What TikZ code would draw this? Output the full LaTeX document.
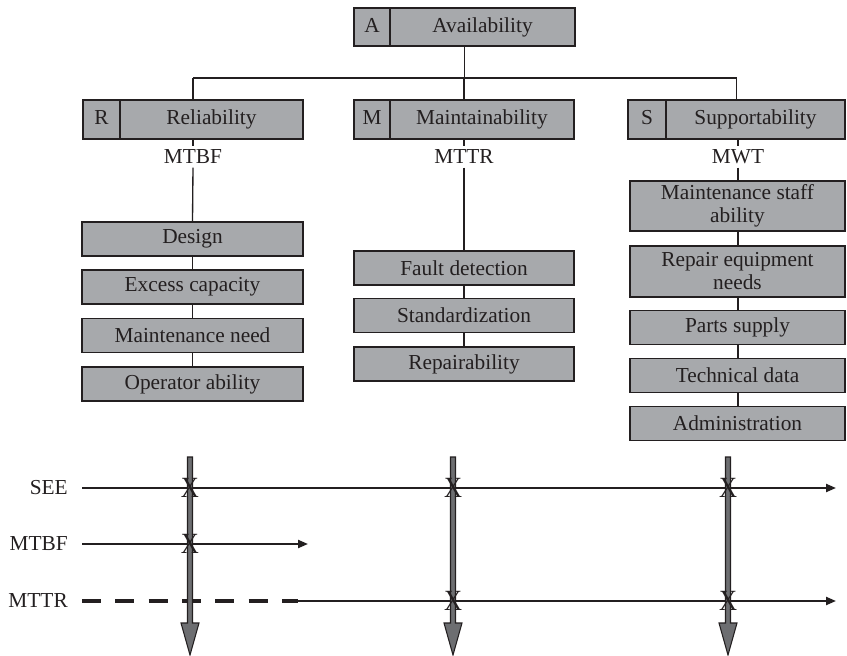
\documentclass[tikz,border=0pt]{standalone}
\usepackage{fontspec}
\setmainfont{Liberation Serif}
\usetikzlibrary{arrows.meta}
\definecolor{boxgray}{RGB}{167,169,172}
\definecolor{bargray}{RGB}{109,110,113}
\definecolor{ink}{RGB}{35,31,32}

\begin{document}
\begin{tikzpicture}[x=0.75pt,y=-0.75pt,
  font=\fontsize{16}{17.25}\selectfont,
  every node/.style={text=ink},
  box/.style={draw=ink, line width=1pt, fill=boxgray, inner sep=0pt,
    align=center, minimum height=25.5pt},
  colL/.style={box, minimum width=165.75pt},
  colM/.style={box, minimum width=165pt},
  colR/.style={box, minimum width=161.25pt},
  headbox/.style 2 args={box, minimum width=#1, minimum height=29.25pt,
    path picture={\draw[ink, line width=2pt]
      ([xshift=#2]path picture bounding box.north west) --
      ([xshift=#2]path picture bounding box.south west);}},
  metric/.style={inner sep=2.5pt},
  conn/.style={draw=ink, line width=1pt},
  hline/.style={draw=ink, line width=1.6pt,
    -{Triangle[length=7.5pt,width=6pt]}},
  dashline/.style={draw=ink, line width=2.5pt,
    dash pattern=on 14.25pt off 10.75pt},
  bararrow/.style={draw=ink, line width=0.8pt, fill=bargray},
  xmark/.style={font=\fontsize{22}{22}\selectfont, inner sep=0pt},
  rowlabel/.style={anchor=east, inner sep=0pt}
]
\useasboundingbox (0,0) rectangle (847,656);

% ---- top of the tree ----
\node[headbox={165.75pt}{27pt}, minimum height=28.5pt] (A) at (464.5,27)
  {\makebox[27pt]{A}\makebox[138.75pt]{Availability}};
\node[headbox={165pt}{27.75pt}] (R) at (193,119.5)
  {\makebox[27.75pt]{R}\makebox[137.25pt]{Reliability}};
\node[headbox={165pt}{27pt}] (M) at (464,119.5)
  {\makebox[27pt]{M}\makebox[138pt]{Maintainability}};
\node[headbox={162.75pt}{28.5pt}] (S) at (736.5,119.5)
  {\makebox[28.5pt]{S}\makebox[134.25pt]{Supportability}};

\coordinate (bar) at (464,78);
\draw[conn] (A.south) -- (A.south |- bar);
\draw[conn] (R.north |- bar) -- (S.north |- bar);
\draw[conn] (R.north |- bar) -- (R.north);
\draw[conn] (M.north |- bar) -- (M.north);
\draw[conn] (S.north |- bar) -- (S.north);

% ---- metrics ----
\node[metric] (mtbf) at (193,157) {MTBF};
\node[metric] (mttr) at (464,157) {MTTR};
\node[metric] (mwt)  at (738,157) {MWT};

% ---- reliability column ----
\node[colL] (design) at (192.5,239)   {Design};
\node[colL] (excess) at (192.5,287)   {Excess capacity};
\node[colL] (mneed)  at (192.5,335.5) {Maintenance need};
\node[colL] (oper)   at (192.5,384)   {Operator ability};

% ---- maintainability column ----
\node[colM] (fault) at (464,268)   {Fault detection};
\node[colM] (stand) at (464,315.5) {Standardization};
\node[colM] (repab) at (464,364)   {Repairability};

% ---- supportability column ----
\node[colR, minimum height=37.5pt] (staff) at (737.5,206)
  {Maintenance staff\\ability};
\node[colR, minimum height=38.25pt] (equip) at (737.5,271.5)
  {Repair equipment\\needs};
\node[colR] (parts) at (737.5,327.5) {Parts supply};
\node[colR] (tech)  at (737.5,375.5) {Technical data};
\node[colR] (admin) at (737.5,423.5) {Administration};

% ---- column connectors ----
\draw[conn] (R.south) -- (mtbf.north);
\draw[conn] (mtbf.south) -- (design.north);
\draw[conn] (design.south) -- (excess.north);
\draw[conn] (excess.south) -- (mneed.north);
\draw[conn] (mneed.south) -- (oper.north);

\draw[conn] (M.south) -- (mttr.north);
\draw[conn] (mttr.south) -- (fault.north);
\draw[conn] (fault.south) -- (stand.north);
\draw[conn] (stand.south) -- (repab.north);

\draw[conn] (S.south -| mwt) -- (mwt.north);
\draw[conn] (mwt.south) -- (staff.north -| mwt);
\draw[conn] (staff.south -| mwt) -- (equip.north -| mwt);
\draw[conn] (equip.south -| mwt) -- (parts.north -| mwt);
\draw[conn] (parts.south -| mwt) -- (tech.north -| mwt);
\draw[conn] (tech.south -| mwt) -- (admin.north -| mwt);

% ---- time lines ----
\node[rowlabel] (lsee)  at (68,488) {SEE};
\node[rowlabel] (lmtbf) at (68,544) {MTBF};
\node[rowlabel] (lmttr) at (68,601) {MTTR};

\coordinate (s0) at (82,488);  \coordinate (s1) at (836,488);
\coordinate (b0) at (82,544);  \coordinate (b1) at (308,544);
\coordinate (r0) at (82,601);  \coordinate (rm) at (298,601);
\coordinate (r1) at (836,601);

\draw[hline] (s0) -- (s1);
\draw[hline] (b0) -- (b1);
\draw[dashline] (r0) -- (rm);
\draw[hline] (rm) -- (r1);

% ---- vertical event arrows ----
\coordinate (v1) at (190,457);
\coordinate (v2) at (453,457);
\coordinate (v3) at (728,457);
\foreach \v in {v1,v2,v3}{
  \draw[bararrow] (\v) ++(-2.5,0) -- ++(5,0) -- ++(0,166) -- ++(6.5,0)
    -- ++(-9,32) -- ++(-9,-32) -- ++(6.5,0) -- cycle;
}

% ---- crossing marks ----
\node[xmark] (x1) at (v1 |- s0) {\scalebox{0.85}[1]{X}};
\node[xmark] (x2) at (v1 |- b0) {\scalebox{0.85}[1]{X}};
\node[xmark] (x3) at (v2 |- s0) {\scalebox{0.85}[1]{X}};
\node[xmark] (x4) at (v2 |- r0) {\scalebox{0.85}[1]{X}};
\node[xmark] (x5) at (v3 |- s0) {\scalebox{0.85}[1]{X}};
\node[xmark] (x6) at (v3 |- r0) {\scalebox{0.85}[1]{X}};
\end{tikzpicture}
\end{document}
